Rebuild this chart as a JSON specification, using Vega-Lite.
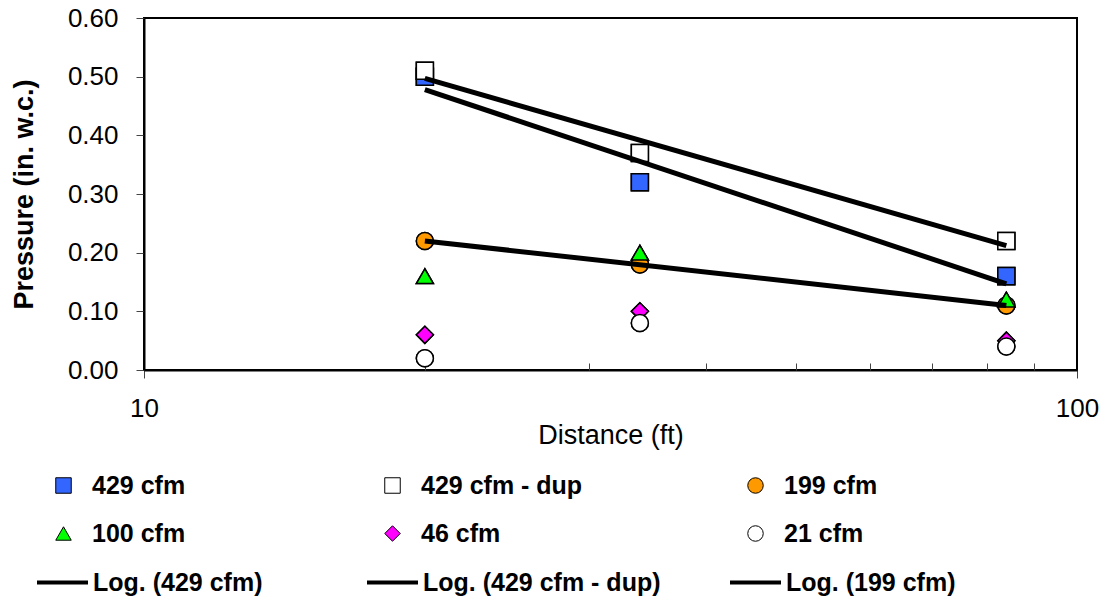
{
  "$schema": "https://vega.github.io/schema/vega-lite/v6.json",
  "width": 933,
  "height": 352,
  "autosize": "none",
  "padding": {"left": 144, "top": 18, "right": 32, "bottom": 231},
  "background": "white",
  "config": {
    "font": "Liberation Sans",
    "view": {"stroke": "black", "strokeWidth": 2},
    "axis": {
      "grid": false,
      "labelColor": "black",
      "titleColor": "black",
      "labelFont": "Liberation Sans",
      "titleFont": "Liberation Sans",
      "labelFontSize": 26,
      "titleFontSize": 27,
      "domainColor": "black",
      "domainWidth": 2,
      "tickColor": "#444",
      "tickWidth": 1
    },
    "legend": {
      "padding": 0,
      "labelFont": "Liberation Sans",
      "labelFontSize": 25,
      "labelFontWeight": "bold",
      "labelColor": "black",
      "labelLimit": 400
    }
  },
  "data": {
    "values": [
      {"series": "429 cfm", "x": 20, "y": 0.50},
      {"series": "429 cfm", "x": 34, "y": 0.32},
      {"series": "429 cfm", "x": 84, "y": 0.16},
      {"series": "429 cfm - dup", "x": 20, "y": 0.51},
      {"series": "429 cfm - dup", "x": 34, "y": 0.37},
      {"series": "429 cfm - dup", "x": 84, "y": 0.22},
      {"series": "199 cfm", "x": 20, "y": 0.22},
      {"series": "199 cfm", "x": 34, "y": 0.18},
      {"series": "199 cfm", "x": 84, "y": 0.11},
      {"series": "100 cfm", "x": 20, "y": 0.16},
      {"series": "100 cfm", "x": 34, "y": 0.20},
      {"series": "100 cfm", "x": 84, "y": 0.12},
      {"series": "46 cfm", "x": 20, "y": 0.06},
      {"series": "46 cfm", "x": 34, "y": 0.10},
      {"series": "46 cfm", "x": 84, "y": 0.05},
      {"series": "21 cfm", "x": 20, "y": 0.02},
      {"series": "21 cfm", "x": 34, "y": 0.08},
      {"series": "21 cfm", "x": 84, "y": 0.04},
      {"series": "Log. (429 cfm)", "x": 20, "y": 0.478},
      {"series": "Log. (429 cfm)", "x": 84, "y": 0.147},
      {"series": "Log. (429 cfm - dup)", "x": 20, "y": 0.497},
      {"series": "Log. (429 cfm - dup)", "x": 84, "y": 0.212},
      {"series": "Log. (199 cfm)", "x": 20, "y": 0.220},
      {"series": "Log. (199 cfm)", "x": 84, "y": 0.110}
    ]
  },
  "layer": [
    {
      "transform": [{"filter": {"field": "series", "oneOf": ["429 cfm", "100 cfm"]}}],
      "mark": {"type": "point", "filled": true, "stroke": "black", "strokeWidth": 1.5, "size": 290, "opacity": 1},
      "encoding": {
        "x": {"field": "x", "type": "quantitative", "scale": {"type": "log", "domain": [10, 100]}, "axis": null},
        "y": {"field": "y", "type": "quantitative", "scale": {"domain": [0, 0.6]}},
        "fill": {"field": "series", "type": "nominal", "scale": {"domain": ["429 cfm", "100 cfm"], "range": ["#3366FF", "#00FF00"]},
          "legend": {"title": null, "orient": "none", "legendX": -93, "legendY": 455, "symbolSize": 240, "symbolStrokeWidth": 1, "labelOffset": 16, "rowPadding": 22}},
        "shape": {"field": "series", "type": "nominal", "scale": {"domain": ["429 cfm", "100 cfm"], "range": ["square", "triangle-up"]},
          "legend": {"title": null, "orient": "none", "legendX": -93, "legendY": 455, "symbolSize": 240, "symbolStrokeWidth": 1, "labelOffset": 16, "rowPadding": 22}}
      }
    },
    {
      "transform": [{"filter": {"field": "series", "oneOf": ["429 cfm - dup", "46 cfm"]}}],
      "mark": {"type": "point", "filled": true, "stroke": "black", "strokeWidth": 1.5, "size": 290, "opacity": 1},
      "encoding": {
        "x": {"field": "x", "type": "quantitative", "scale": {"type": "log", "domain": [10, 100]}, "axis": null},
        "y": {"field": "y", "type": "quantitative", "scale": {"domain": [0, 0.6]}},
        "fill": {"field": "series", "type": "nominal", "scale": {"domain": ["429 cfm - dup", "46 cfm"], "range": ["#FFFFFF", "#FF00FF"]},
          "legend": {"title": null, "orient": "none", "legendX": 236, "legendY": 455, "symbolSize": 240, "symbolStrokeWidth": 1, "labelOffset": 16, "rowPadding": 22}},
        "shape": {"field": "series", "type": "nominal", "scale": {"domain": ["429 cfm - dup", "46 cfm"], "range": ["square", "diamond"]},
          "legend": {"title": null, "orient": "none", "legendX": 236, "legendY": 455, "symbolSize": 240, "symbolStrokeWidth": 1, "labelOffset": 16, "rowPadding": 22}}
      }
    },
    {
      "transform": [{"filter": {"field": "series", "oneOf": ["199 cfm", "21 cfm"]}}],
      "mark": {"type": "point", "filled": true, "stroke": "black", "strokeWidth": 1.5, "size": 290, "opacity": 1},
      "encoding": {
        "x": {"field": "x", "type": "quantitative", "scale": {"type": "log", "domain": [10, 100]}, "axis": null},
        "y": {"field": "y", "type": "quantitative", "scale": {"domain": [0, 0.6]}},
        "fill": {"field": "series", "type": "nominal", "scale": {"domain": ["199 cfm", "21 cfm"], "range": ["#FF9900", "#FFFFFF"]},
          "legend": {"title": null, "orient": "none", "legendX": 599, "legendY": 455, "symbolSize": 240, "symbolStrokeWidth": 1, "labelOffset": 16, "rowPadding": 22}},
        "shape": {"field": "series", "type": "nominal", "scale": {"domain": ["199 cfm", "21 cfm"], "range": ["circle", "circle"]},
          "legend": {"title": null, "orient": "none", "legendX": 599, "legendY": 455, "symbolSize": 240, "symbolStrokeWidth": 1, "labelOffset": 16, "rowPadding": 22}}
      }
    },
    {
      "transform": [{"filter": {"field": "series", "oneOf": ["429 cfm", "429 cfm - dup", "199 cfm", "100 cfm", "46 cfm", "21 cfm"]}}],
      "mark": {"type": "point", "filled": true, "stroke": "black", "strokeWidth": 1.5, "size": 290, "opacity": 1},
      "encoding": {
        "x": {"field": "x", "type": "quantitative", "scale": {"type": "log", "domain": [10, 100]},
          "axis": {"orient": "bottom", "values": [10, 100], "format": "d", "tickSize": 8, "labelPadding": 17, "labelFlush": false, "title": "Distance (ft)", "titleFontWeight": "normal", "titlePadding": 1}},
        "y": {"field": "y", "type": "quantitative", "scale": {"domain": [0, 0.6]},
          "axis": {"values": [0, 0.1, 0.2, 0.3, 0.4, 0.5, 0.6], "format": ".2f", "tickSize": 8, "labelPadding": 18, "title": "Pressure (in. w.c.)", "titleFontWeight": "bold", "titlePadding": 29}},
        "fill": {"field": "series", "type": "nominal", "scale": {"domain": ["429 cfm", "429 cfm - dup", "199 cfm", "100 cfm", "46 cfm", "21 cfm"], "range": ["#3366FF", "#FFFFFF", "#FF9900", "#00FF00", "#FF00FF", "#FFFFFF"]}, "legend": null},
        "shape": {"field": "series", "type": "nominal", "scale": {"domain": ["429 cfm", "429 cfm - dup", "199 cfm", "100 cfm", "46 cfm", "21 cfm"], "range": ["square", "square", "circle", "triangle-up", "diamond", "circle"]}, "legend": null}
      }
    },
    {
      "transform": [{"filter": {"field": "series", "equal": "Log. (429 cfm)"}}],
      "mark": {"type": "line", "strokeWidth": 5},
      "encoding": {
        "x": {"field": "x", "type": "quantitative", "scale": {"type": "log", "domain": [10, 100]},
          "axis": {"orient": "bottom", "values": [20, 30, 40, 50, 60, 70, 80, 90], "labels": false, "domain": false, "tickSize": -7, "title": null}},
        "y": {"field": "y", "type": "quantitative", "scale": {"domain": [0, 0.6]}},
        "stroke": {"field": "series", "type": "nominal", "scale": {"domain": ["Log. (429 cfm)"], "range": ["black"]},
          "legend": {"title": null, "orient": "none", "legendX": -109, "legendY": 537, "symbolType": "stroke", "symbolSize": 2601, "symbolStrokeWidth": 4, "labelOffset": 3}}
      }
    },
    {
      "transform": [{"filter": {"field": "series", "equal": "Log. (429 cfm - dup)"}}],
      "mark": {"type": "line", "strokeWidth": 5},
      "encoding": {
        "x": {"field": "x", "type": "quantitative", "scale": {"type": "log", "domain": [10, 100]}, "axis": null},
        "y": {"field": "y", "type": "quantitative", "scale": {"domain": [0, 0.6]}},
        "stroke": {"field": "series", "type": "nominal", "scale": {"domain": ["Log. (429 cfm - dup)"], "range": ["black"]},
          "legend": {"title": null, "orient": "none", "legendX": 221, "legendY": 537, "symbolType": "stroke", "symbolSize": 2601, "symbolStrokeWidth": 4, "labelOffset": 3}}
      }
    },
    {
      "transform": [{"filter": {"field": "series", "equal": "Log. (199 cfm)"}}],
      "mark": {"type": "line", "strokeWidth": 5},
      "encoding": {
        "x": {"field": "x", "type": "quantitative", "scale": {"type": "log", "domain": [10, 100]}, "axis": null},
        "y": {"field": "y", "type": "quantitative", "scale": {"domain": [0, 0.6]}},
        "stroke": {"field": "series", "type": "nominal", "scale": {"domain": ["Log. (199 cfm)"], "range": ["black"]},
          "legend": {"title": null, "orient": "none", "legendX": 584, "legendY": 537, "symbolType": "stroke", "symbolSize": 2601, "symbolStrokeWidth": 4, "labelOffset": 3}}
      }
    }
  ],
  "resolve": {
    "scale": {"fill": "independent", "shape": "independent", "stroke": "independent"},
    "axis": {"x": "independent"}
  }
}
